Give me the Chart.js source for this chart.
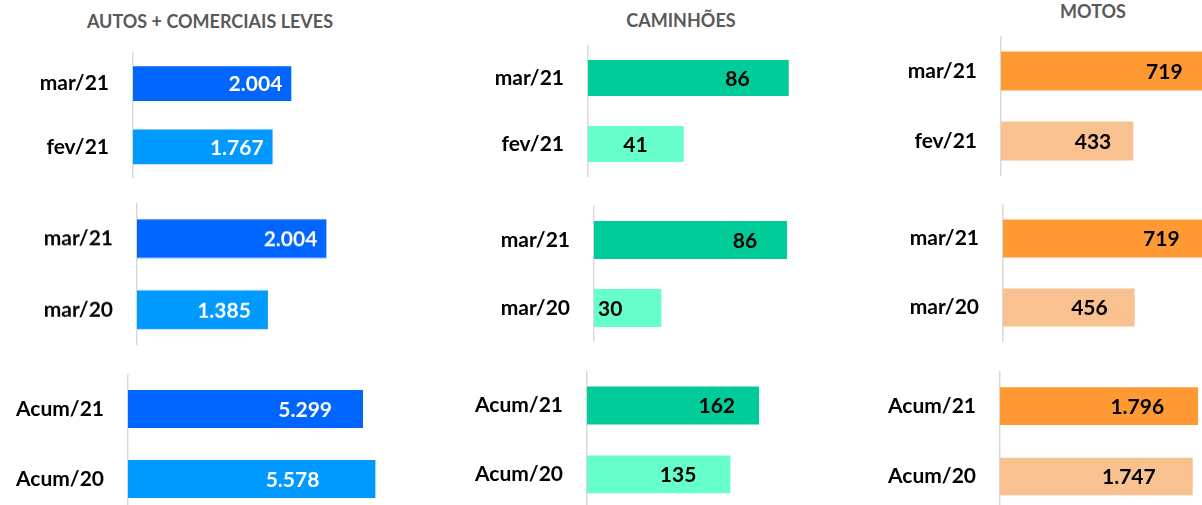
<!DOCTYPE html>
<html>
<head>
<meta charset="utf-8">
<script src="https://cdn.jsdelivr.net/npm/chart.js@4"></script>
<style>
  html, body { margin: 0; padding: 0; background: #fff; }
  #page { position: relative; width: 1202px; height: 505px; overflow: hidden; }
  .box { position: absolute; }
  .titulo { position: absolute; font-family: Lato, "Open Sans", sans-serif; font-weight: bold;
            color: #595959; font-size: 18px; transform: translate(-50%, -50%); white-space: nowrap; }
</style>
</head>
<body>
<div id="page">
  <div class="titulo" style="left:210px; top:21px;">AUTOS + COMERCIAIS LEVES</div>
  <div class="titulo" style="left:681px; top:20px;">CAMINHÕES</div>
  <div class="titulo" style="left:1093px; top:11px;">MOTOS</div>
</div>
<script>
// dados
const catsMes = ['mar/21', 'fev/21'];
const catsAno = ['mar/21', 'mar/20'];
const catsAcum = ['Acum/21', 'Acum/20'];

const autosMes = [2004, 1767];
const autosAno = [2004, 1385];
const autosAcum = [5299, 5578];

const caminhoesMes = [86, 41];
const caminhoesAno = [86, 30];
const caminhoesAcum = [162, 135];

const motosMes = [719, 433];
const motosAno = [719, 456];
const motosAcum = [1796, 1747];

const corAutos = ['#0066FF', '#0099FF'];
const corCaminhoes = ['#00CC99', '#66FFCC'];
const corMotos = ['#FF9933', '#F8C18F'];

const LABEL_W = 120, PLOT_W = 260;

// posicao do eixo, topo, altura, px por unidade, barPercentage, recuo dos rotulos, cor do rotulo
const paineis = [
    {cats: catsMes,  dados: autosMes,  cores: corAutos, x: 133,   top: 51.7,  h: 126.4, ppu: 0.079,   bp: 0.55,  pad: [9, 9],   txt: '#fff'},
    {cats: catsAno,  dados: autosAno,  cores: corAutos, x: 136.7, top: 203.2, h: 141.4, ppu: 0.0945,  bp: 0.543, pad: [9, 17],  txt: '#fff'},
    {cats: catsAcum, dados: autosAcum, cores: corAutos, x: 127.7, top: 373.9, h: 140,   ppu: 0.04435, bp: 0.54,  pad: [31, 56], txt: '#fff'},
    {cats: catsMes,  dados: caminhoesMes,  cores: corCaminhoes, x: 588.3, top: 45,    h: 132,   ppu: 2.334, bp: 0.545, pad: [39, 36], txt: '#000'},
    {cats: catsAno,  dados: caminhoesAno,  cores: corCaminhoes, x: 594.3, top: 206,   h: 136,   ppu: 2.245, bp: 0.56,  pad: [30, 39], txt: '#000'},
    {cats: catsAcum, dados: caminhoesAcum, cores: corCaminhoes, x: 587.3, top: 370.6, h: 137.8, ppu: 1.062, bp: 0.55,  pad: [24, 34], txt: '#000'},
    {cats: catsMes,  dados: motosMes,  cores: corMotos, x: 1000.7, top: 36.3,  h: 140,   ppu: 0.3055, bp: 0.56,  pad: [38, 22], txt: '#000'},
    {cats: catsAno,  dados: motosAno,  cores: corMotos, x: 1003.3, top: 204.4, h: 138,   ppu: 0.2888, bp: 0.55,  pad: [31, 27], txt: '#000'},
    {cats: catsAcum, dados: motosAcum, cores: corMotos, x: 1000,   top: 370.5, h: 140.6, ppu: 0.1103, bp: 0.535, pad: [34, 37], txt: '#000'}
];

function fmt(v){
    return v.toString().replace(/\B(?=(\d{3})+(?!\d))/g, '.');
}

const rotulos = {
    id: 'rotulos',
    afterDatasetsDraw(chart, args, opts){
        const ctx = chart.ctx;
        const meta = chart.getDatasetMeta(0);
        ctx.save();
        ctx.font = 'bold 21px Lato, "Open Sans", sans-serif';
        ctx.fillStyle = opts.color;
        ctx.textAlign = 'right';
        ctx.textBaseline = 'middle';
        meta.data.forEach((bar, i) => {
            ctx.fillText(fmt(chart.data.datasets[0].data[i]), bar.x - opts.pad[i], bar.y + 1);
        });
        ctx.restore();
    }
};

const page = document.getElementById('page');

paineis.forEach(p => {
    let box = document.createElement('div');
    box.className = 'box';
    box.style.left = (p.x - LABEL_W) + 'px';
    box.style.top = p.top + 'px';
    box.style.width = (LABEL_W + PLOT_W) + 'px';
    box.style.height = p.h + 'px';
    let canvas = document.createElement('canvas');
    box.appendChild(canvas);
    page.appendChild(box);

    new Chart(canvas.getContext('2d'), {
        type: 'bar',
        data: {
            labels: p.cats,
            datasets: [{
                data: p.dados,
                backgroundColor: p.cores,
                barPercentage: p.bp,
                categoryPercentage: 1
            }]
        },
        options: {
            indexAxis: 'y',
            responsive: true,
            maintainAspectRatio: false,
            animation: false,
            layout: { padding: 0 },
            scales: {
                x: {
                    display: false,
                    min: 0,
                    max: PLOT_W / p.ppu
                },
                y: {
                    grid: { display: false, drawTicks: false },
                    border: { display: true, color: '#D9D9D9', width: 1.5 },
                    ticks: {
                        color: '#000',
                        padding: 24,
                        font: { family: 'Lato, "Open Sans", sans-serif', size: 21, weight: 'bold' }
                    },
                    afterFit: (scale) => {
                        scale.width = LABEL_W;
                        scale.paddingTop = 0;
                        scale.paddingBottom = 0;
                    }
                }
            },
            plugins: {
                legend: { display: false },
                title: { display: false },
                tooltip: { enabled: false },
                rotulos: { color: p.txt, pad: p.pad }
            }
        },
        plugins: [rotulos]
    });
});
</script>
</body>
</html>
